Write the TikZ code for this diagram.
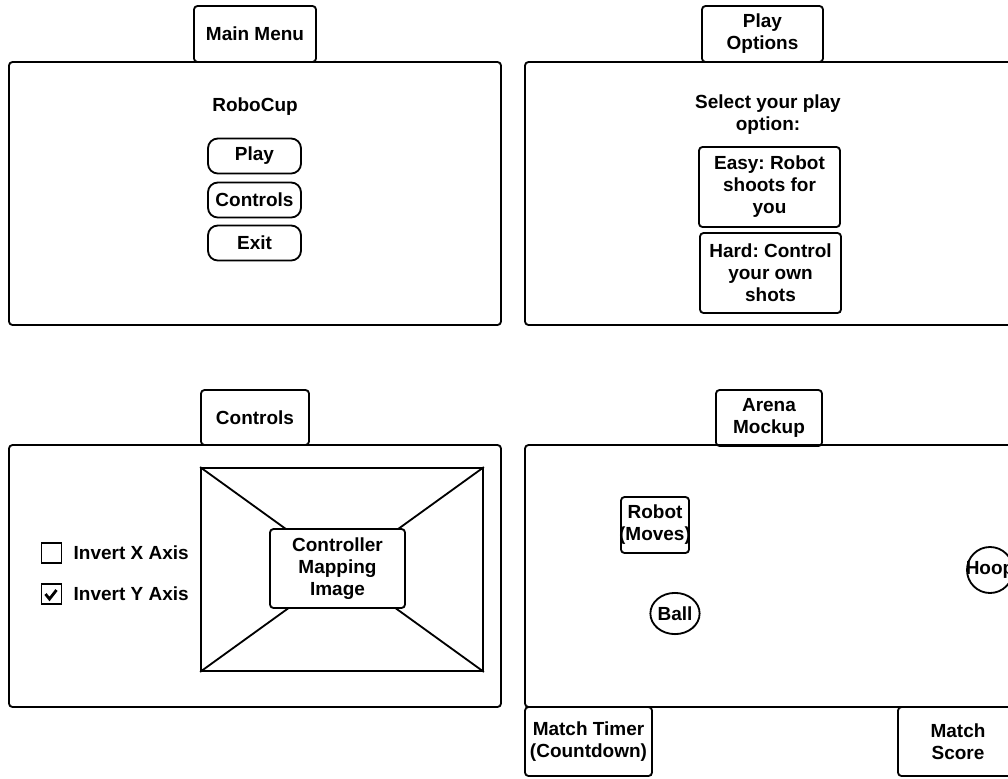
\documentclass[tikz,border=0pt]{standalone}
\usepackage{fontspec}
\setmainfont{Liberation Sans}
\frenchspacing
\usetikzlibrary{shapes,positioning}

\begin{document}
\begin{tikzpicture}[x=0.025cm,y=-0.025cm,
    font=\bfseries\fontsize{13.5}{15.6}\selectfont,
    every node/.style={align=center},
    sz/.style 2 args={minimum width=#1*0.025cm,minimum height=#2*0.025cm},
    box/.style={draw,line width=1.3pt,rounded corners=2.5pt,inner sep=0pt},
    btn/.style={box,rounded corners=7pt},
    blob/.style={draw,line width=1.3pt,ellipse,inner sep=0pt},
    chk/.style={draw,line width=1pt,minimum size=0.5cm,inner sep=0pt}]
  \useasboundingbox (0,0) rectangle (1008,778);
  \clip (0,0) rectangle (1008,778);
  % main menu screen
  \node[box,sz={492}{263}] (menu) at (255,193.5) {};
  \node[box,sz={122}{56}] (menutab) at (255,34) {Main Menu};
  \node (robocup) at (255,107) {RoboCup};
  \foreach \lbl/\yy in {Play/156, Controls/200, Exit/243}
    \node[btn,sz={93}{35}] (b\lbl) at (254.5,\yy) {\lbl};
  % play options screen
  \node[box,sz={491}{263}] (play) at (770.5,193.5) {};
  \node[box,sz={121}{56}] (playtab) at (762.5,34) {Play\\Options};
  \node (select) at (768,115) {Select your play\\option:};
  \node[box,sz={141}{80}] (easy) at (769.5,187) {Easy: Robot\\shoots for\\you};
  \node[box,sz={141}{80}] (hard) at (770.5,273) {Hard: Control\\your own\\shots};
  % controls screen, image placeholder is a crossed box
  \node[box,sz={492}{262}] (ctrl) at (255,576) {};
  \node[box,sz={108}{55}] (ctrltab) at (255,417.5) {Controls};
  \node[draw,line width=1.3pt,inner sep=0pt,sz={282}{203}] (img) at (342,569.5) {};
  \draw[line width=1.3pt] (img.north west) -- (img.south east)
                          (img.north east) -- (img.south west);
  \node[box,fill=white,sz={135}{79}] (imgtxt) at (337.5,568.5) {Controller\\Mapping\\Image};
  \node[chk] (chkx) at (51.5,553) {};
  \node[chk] (chky) at (51.5,594) {};
  \node[right=0.28cm of chkx,inner sep=0pt] (invx) {Invert X Axis};
  \node[right=0.28cm of chky,inner sep=0pt] (invy) {Invert Y Axis};
  \draw[line width=2pt] (chky.center) ++(-6,0) -- ++(4,5) -- ++(7,-9);
  % arena mockup
  \node[box,sz={491}{262}] (arena) at (770.5,576) {};
  \node[box,sz={106}{56}] (arenatab) at (769,418) {Arena\\Mockup};
  \node[box,sz={68}{56}] (robot) at (655,525) {\makebox[0pt]{Robot}\\\makebox[0pt]{(Moves)}};
  \node[blob,minimum width=1.2cm,minimum height=1.03cm] (ball) at (675,613.5) {Ball};
  \node[blob,minimum size=1.15cm] (hoop) at (990,570) {\makebox[0pt]{Hoop}};
  \node[box,sz={127}{69}] (timer) at (588.5,741.5) {Match Timer\\(Countdown)};
  \node[box,sz={120}{69}] (score) at (958,741.5) {Match\\Score};
\end{tikzpicture}
\end{document}
